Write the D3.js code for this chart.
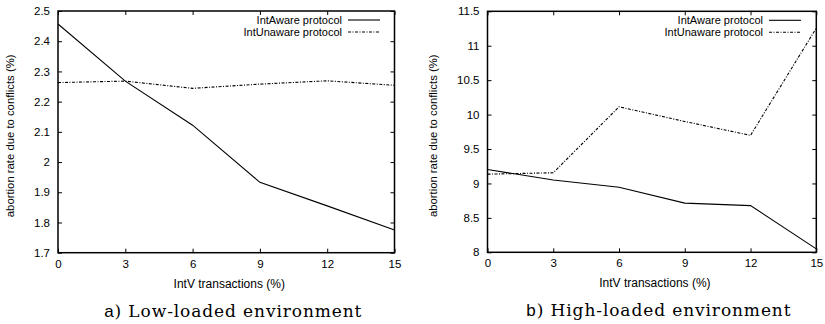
<!DOCTYPE html>
<html>
<head>
<meta charset="utf-8">
<script src="https://cdn.jsdelivr.net/npm/d3@7"></script>
<style>
  html, body { margin: 0; padding: 0; background: #fff; }
  svg { display: block; }
  .tick text, .lbl { font-family: "Liberation Sans", Arial, sans-serif; fill: #000; }
</style>
</head>
<body>
<svg id="chart" width="825" height="324"></svg>
<script>
// Abortion rate due to conflicts vs. share of IntV transactions
const xValues = [0, 3, 6, 9, 12, 15];
const xTicks = [0, 3, 6, 9, 12, 15];

const lowAware   = [2.457, 2.268, 2.122, 1.933, 1.855, 1.775];
const lowUnaware = [2.263, 2.268, 2.244, 2.258, 2.269, 2.254];
const lowTicks = [1.7, 1.8, 1.9, 2.0, 2.1, 2.2, 2.3, 2.4, 2.5];

const highAware   = [9.203, 9.05, 8.945, 8.714, 8.678, 8.05];
const highUnaware = [9.135, 9.155, 10.113, 9.9, 9.698, 11.257];
const highTicks = [8, 8.5, 9, 9.5, 10, 10.5, 11, 11.5];

const seriesNames = ["IntAware protocol", "IntUnaware protocol"];

const svg = d3.select("#chart");

function panel(cfg) {
  const g = svg.append("g");
  const x = d3.scaleLinear().domain([0, 15]).range([cfg.left, cfg.right]);
  const y = d3.scaleLinear().domain(cfg.domain).range([cfg.bottom, cfg.top]);
  const fmt = d => String(+d.toFixed(2));

  // axes with inward ticks, mirrored on the opposite sides
  g.append("g").attr("transform", `translate(0,${cfg.bottom})`)
    .call(d3.axisBottom(x).tickValues(xTicks).tickSize(-4).tickPadding(7).tickFormat(fmt));
  g.append("g").attr("transform", `translate(0,${cfg.top})`)
    .call(d3.axisTop(x).tickValues(xTicks).tickSize(-4).tickFormat(""));
  g.append("g").attr("transform", `translate(${cfg.left},0)`)
    .call(d3.axisLeft(y).tickValues(cfg.ticks).tickSize(-4).tickPadding(8).tickFormat(fmt));
  g.append("g").attr("transform", `translate(${cfg.right},0)`)
    .call(d3.axisRight(y).tickValues(cfg.ticks).tickSize(-4).tickFormat(""));

  g.selectAll(".domain").remove();
  g.selectAll(".tick line").attr("stroke", "#000").attr("stroke-width", 1);
  g.selectAll(".tick text").attr("font-size", 11.5);

  g.append("rect")
    .attr("x", cfg.left).attr("y", cfg.top)
    .attr("width", cfg.right - cfg.left).attr("height", cfg.bottom - cfg.top)
    .attr("fill", "none").attr("stroke", "#000").attr("stroke-width", 1.5);

  const line = d3.line().x((d, i) => x(xValues[i])).y(d => y(d));
  const styles = [
    { dash: null, width: 1.1 },
    { dash: "3,1.5,1,1.5", width: 1.1 }
  ];
  [cfg.aware, cfg.unaware].forEach((vals, i) => {
    g.append("path").datum(vals)
      .attr("d", line)
      .attr("fill", "none")
      .attr("stroke", "#000")
      .attr("stroke-width", styles[i].width)
      .attr("stroke-dasharray", styles[i].dash);
  });

  // legend
  seriesNames.forEach((name, i) => {
    const ly = cfg.top + 9 + i * 12;
    g.append("text").attr("class", "lbl")
      .attr("x", cfg.legendX).attr("y", ly + 4)
      .attr("text-anchor", "end").attr("font-size", 11)
      .text(name);
    g.append("line")
      .attr("x1", cfg.legendX + 6).attr("x2", cfg.legendX + 38)
      .attr("y1", ly).attr("y2", ly)
      .attr("stroke", "#000").attr("stroke-width", 1.1)
      .attr("stroke-dasharray", styles[i].dash);
  });

  // axis titles
  g.append("text").attr("class", "lbl")
    .attr("x", (cfg.left + cfg.right) / 2 + 3).attr("y", cfg.bottom + 35)
    .attr("text-anchor", "middle").attr("font-size", 12)
    .text("IntV transactions (%)");
  g.append("text").attr("class", "lbl")
    .attr("transform", `translate(${cfg.yTitleX},${(cfg.top + cfg.bottom) / 2 + 4}) rotate(-90)`)
    .attr("text-anchor", "middle").attr("font-size", 11.3)
    .text("abortion rate due to conflicts (%)");

  // caption
  const cap = g.append("text")
    .attr("x", (cfg.left + cfg.right) / 2 + 7).attr("y", cfg.bottom + 64)
    .attr("text-anchor", "middle").attr("font-size", 17)
    .attr("letter-spacing", 0.9)
    .attr("font-family", "'DejaVu Serif', 'Liberation Serif', serif");
  cap.append("tspan").attr("font-family", "'Liberation Sans', Arial, sans-serif").text(cfg.letter);
  cap.append("tspan").text(") " + cfg.caption);
}

panel({
  left: 58, right: 394.5, top: 11, bottom: 252.7,
  domain: [1.7, 2.5], ticks: lowTicks,
  aware: lowAware, unaware: lowUnaware,
  legendX: 342, yTitleX: 14,
  letter: "a", caption: "Low-loaded environment"
});

panel({
  left: 487.5, right: 816.3, top: 11.3, bottom: 252.3,
  domain: [8, 11.5], ticks: highTicks,
  aware: highAware, unaware: highUnaware,
  legendX: 763, yTitleX: 437,
  letter: "b", caption: "High-loaded environment"
});
</script>
</body>
</html>
